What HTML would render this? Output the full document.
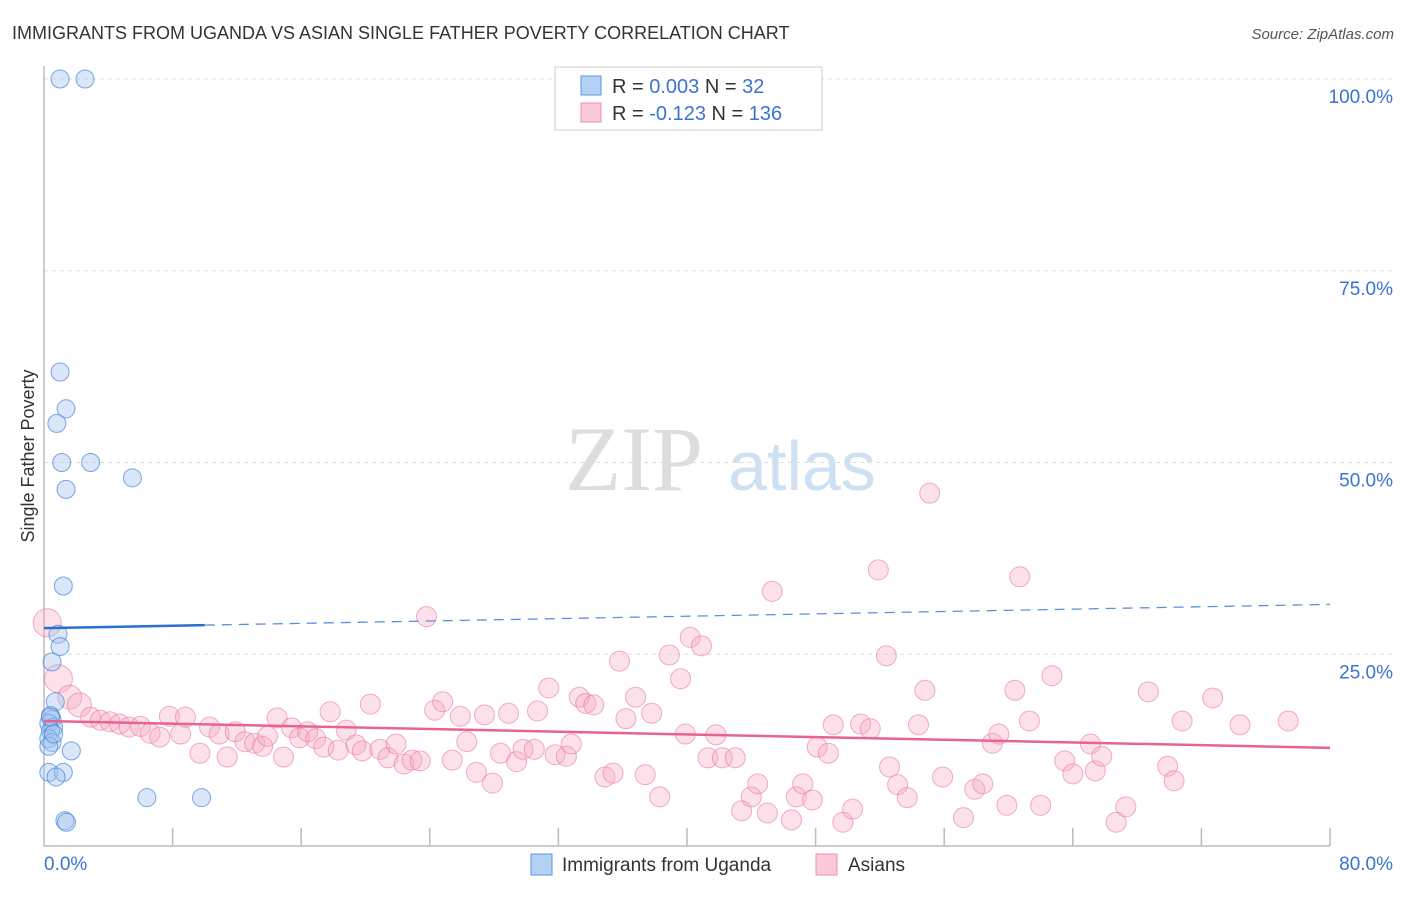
<!DOCTYPE html>
<html><head><meta charset="utf-8"><style>
body{margin:0;background:#fff;font-family:"Liberation Sans",sans-serif;}
</style></head><body>
<svg id="c" width="1406" height="892" xmlns="http://www.w3.org/2000/svg" style="font-family:'Liberation Sans',sans-serif">
<text x="12" y="39" font-size="18" fill="#333">IMMIGRANTS FROM UGANDA VS ASIAN SINGLE FATHER POVERTY CORRELATION CHART</text>
<text x="1394" y="39" font-size="15" fill="#555" font-style="italic" text-anchor="end">Source: ZipAtlas.com</text>
<text transform="translate(34,456) rotate(-90)" font-size="18" fill="#333" text-anchor="middle">Single Father Poverty</text>
<g><text x="634" y="490" font-size="92" fill="#ddd" text-anchor="middle" font-family="Liberation Serif,serif">ZIP</text><text x="802" y="490" font-size="70" fill="#cfe0f3" text-anchor="middle">atlas</text></g>
<g id="grid"></g><g id="axes"></g><g id="pts"></g><g id="trend"></g>
<g>
<rect x="555" y="67" width="267" height="63" fill="#fff" stroke="#ccc"/>
<rect x="581" y="76" width="20" height="19" fill="#b5d0f5" stroke="#5a93dc"/>
<rect x="581" y="103" width="20" height="19" fill="#fbc9d8" stroke="#ee8fae"/>
<text x="612" y="93" font-size="20" fill="#333">R = <tspan fill="#3b73d1">0.003</tspan>   N =  <tspan fill="#3b73d1">32</tspan></text>
<text x="612" y="120" font-size="20" fill="#333">R = <tspan fill="#3b73d1">-0.123</tspan>   N = <tspan fill="#3b73d1">136</tspan></text>
</g>
<g>
<rect x="531" y="854" width="21" height="21" fill="#b5d0f5" stroke="#5a93dc"/>
<text x="562" y="871" font-size="19" fill="#333">Immigrants from Uganda</text>
<rect x="816" y="854" width="21" height="21" fill="#fbc9d8" stroke="#ee8fae"/>
<text x="848" y="871" font-size="19" fill="#333">Asians</text>
</g>
</svg>
<script>
const xTicks=[0,8,16,24,32,40,48,56,64,72,80];
const yTicks=[25,50,75,100];
const yTickLabels=["25.0%","50.0%","75.0%","100.0%"];
const xEndLabels=["0.0%","80.0%"];
const ugandaX=[1.0,2.55,1.0,1.37,0.8,1.1,2.9,1.37,5.5,1.2,0.87,1.0,0.5,0.7,0.4,0.5,0.3,0.6,0.4,0.3,0.5,0.3,1.7,0.3,1.2,0.75,6.4,9.8,1.3,1.4,0.4,0.6];
const ugandaY=[100,100,61.8,57,55.1,50,50,46.5,48,33.9,27.6,26,24,18.8,17,16.5,16,15.5,15,14,13.5,13,12.4,9.6,9.6,9,6.3,6.3,3.3,3.1,16.8,14.6];
const asianX=[0.2,0.9,1.6,2.2,2.9,3.5,4.1,4.7,5.3,6.0,6.6,7.2,7.8,8.5,8.8,9.7,10.3,10.9,11.4,11.9,12.5,13.1,13.6,13.9,14.5,14.9,15.4,15.9,16.4,16.9,17.4,17.8,18.3,18.8,19.4,19.8,20.3,20.9,21.4,21.9,22.4,22.9,23.4,23.8,24.3,24.8,25.4,25.9,26.3,26.9,27.4,27.9,28.4,28.9,29.4,29.8,30.5,30.7,31.4,31.8,32.5,32.8,33.3,33.7,34.2,34.9,35.4,35.8,36.2,36.8,37.4,37.8,38.3,38.9,39.6,39.9,40.2,40.9,41.3,41.8,42.2,43.0,43.4,44.0,44.4,45.0,45.3,46.5,46.8,47.2,47.8,48.1,48.8,49.1,49.7,50.3,50.8,51.4,51.9,52.4,52.6,53.1,53.7,54.4,54.8,55.1,55.9,57.2,57.9,58.4,59.0,59.4,59.9,60.4,60.7,61.3,62.0,62.7,63.5,64.0,65.1,65.4,65.8,66.7,67.3,68.7,69.9,70.3,70.8,72.7,74.4,77.4];
const asianY=[29.1,21.8,19.4,18.4,16.8,16.4,16.2,15.9,15.5,15.6,14.7,14.2,16.9,14.6,16.8,12.1,15.5,14.6,11.6,14.9,13.6,13.4,13.0,14.3,16.7,11.6,15.4,14.1,14.9,14.0,12.9,17.5,12.5,15.1,13.2,12.4,18.5,12.6,11.5,13.3,10.7,11.2,11.1,29.9,17.7,18.8,11.2,16.9,13.6,9.6,17.1,8.2,12.1,17.3,11.0,12.6,12.6,17.6,20.6,11.9,11.7,13.3,19.4,18.6,18.4,9.0,9.5,24.1,16.6,19.4,9.3,17.3,6.4,24.9,21.8,14.6,27.2,26.1,11.5,14.5,11.5,11.5,4.6,6.4,8.1,4.3,33.2,3.4,6.4,8.1,6.0,12.9,12.1,15.8,3.1,4.8,15.9,15.3,36.0,24.8,10.3,8.0,6.3,15.8,20.3,46.0,9.0,3.7,7.4,8.1,13.4,14.6,5.3,20.3,35.1,16.3,5.3,22.2,11.1,9.4,13.3,9.8,11.7,3.1,5.1,20.1,10.4,8.5,16.3,19.3,15.8,16.3];
const blueTrend=[[0,28.4],[10,28.8],[80,31.5]];
const pinkTrend=[[0,16.3],[80,12.8]];
const NS="http://www.w3.org/2000/svg";
const X0=44,X1=1330,Y0=846,Y100=79;
const sx=v=>X0+v/80*(X1-X0), sy=v=>Y0-v/100*(Y0-Y100);
function mk(tag,attrs,parent){const e=document.createElementNS(NS,tag);for(const k in attrs)e.setAttribute(k,attrs[k]);parent.appendChild(e);return e;}
const grid=document.getElementById('grid'),axes=document.getElementById('axes'),pts=document.getElementById('pts'),tr=document.getElementById('trend');
yTicks.forEach((t,i)=>{
 const l=mk('line',{x1:X0,x2:1394,y1:sy(t),y2:sy(t),stroke:'#ddd','stroke-dasharray':'4,4'},grid);
 
 
 const tx=mk('text',{x:1393,y:sy(t)+24,'font-size':19,fill:'#3b73d1','text-anchor':'end'},grid);
 tx.textContent=yTickLabels[i];
 
 
});
const ax=mk('path',{d:`M${X0},66 V${Y0} H${X1}`,fill:'none',stroke:'#bbb','stroke-width':1.5},axes);


xTicks.forEach(t=>{if(t===0)return;
 const l=mk('line',{x1:sx(t),x2:sx(t),y1:828,y2:Y0,stroke:'#bbb','stroke-width':1.5},axes);
 
 
});
[[X0,'start',0],[1393,'end',1]].forEach(([x,a,i])=>{
 const tx=mk('text',{x:x,y:870,'font-size':19,fill:'#3b73d1','text-anchor':a},axes);
 tx.textContent=xEndLabels[i];
 
 
});
asianX.forEach((v,i)=>{
 const r=(i<2)?14:(i<4?12:10);
 const c=mk('circle',{cx:sx(v),cy:sy(asianY[i]),r:r,fill:'rgba(246,170,195,0.35)',stroke:'rgba(232,120,160,0.6)','stroke-width':1},pts);
 
 
});
ugandaX.forEach((v,i)=>{
 const c=mk('circle',{cx:sx(v),cy:sy(ugandaY[i]),r:9,fill:'rgba(160,195,240,0.4)',stroke:'rgba(70,130,215,0.7)','stroke-width':1},pts);
 
 
});
const b1=mk('line',{x1:sx(blueTrend[0][0]),y1:sy(blueTrend[0][1]),x2:sx(blueTrend[1][0]),y2:sy(blueTrend[1][1]),stroke:'#2b6fd1','stroke-width':2.5},tr);


const b2=mk('line',{x1:sx(blueTrend[1][0]),y1:sy(blueTrend[1][1]),x2:sx(blueTrend[2][0]),y2:sy(blueTrend[2][1]),stroke:'#5a8fdc','stroke-width':1.3,'stroke-dasharray':'10,7'},tr);


const p=mk('line',{x1:sx(pinkTrend[0][0]),y1:sy(pinkTrend[0][1]),x2:sx(pinkTrend[1][0]),y2:sy(pinkTrend[1][1]),stroke:'#e8648f','stroke-width':2.5},tr);


</script>
</body></html>
